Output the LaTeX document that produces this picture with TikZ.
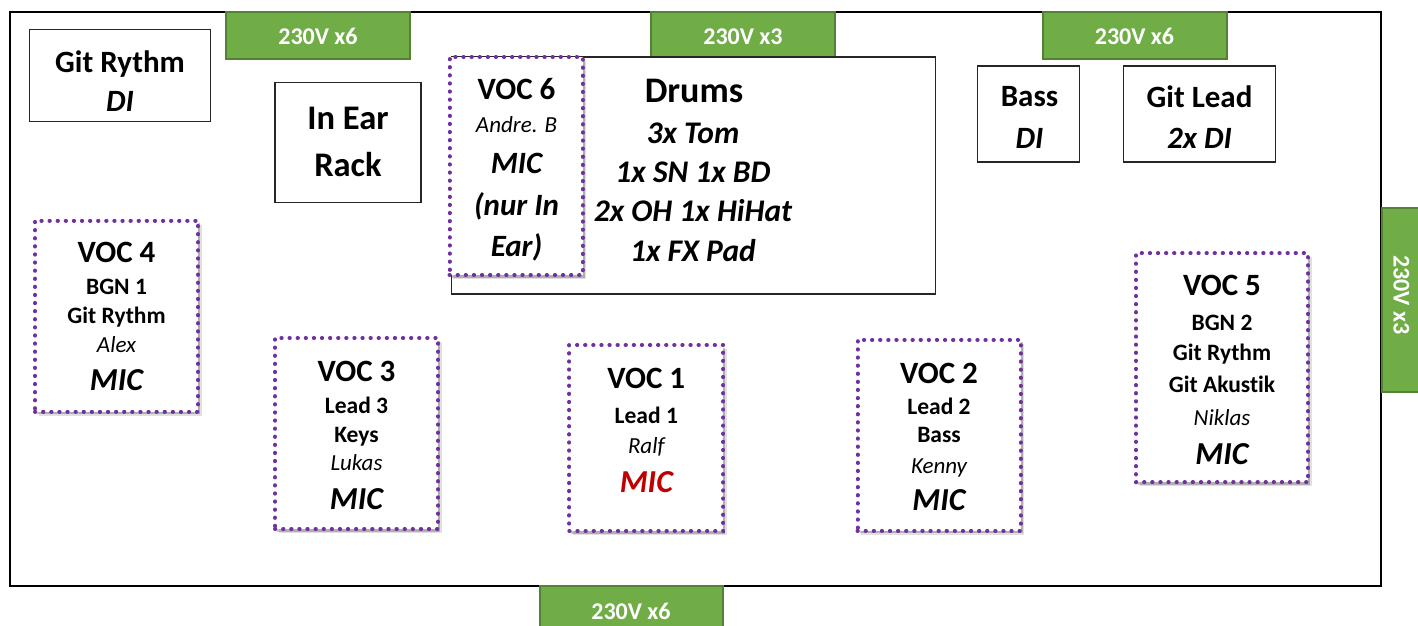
\documentclass[tikz,border=0pt]{standalone}
\usepackage{fontspec}
\setmainfont[Ligatures={NoCommon}]{Carlito}
\usetikzlibrary{shadows}
\definecolor{pgreen}{HTML}{70AD47}
\definecolor{pgreenb}{HTML}{548235}
\definecolor{vpurple}{HTML}{7030A0}
\definecolor{mred}{HTML}{C00000}
\tikzset{
  t/.style={anchor=base, inner sep=0pt},
  big/.style={t, font=\fontsize{31}{36}\selectfont\bfseries},
  bigit/.style={t, font=\fontsize{31}{36}\selectfont\bfseries\itshape},
  mid/.style={t, font=\fontsize{23.5}{28}\selectfont\bfseries},
  nm/.style={t, font=\fontsize{23}{28}\selectfont\itshape},
  mic/.style={t, font=\fontsize{32}{36}\selectfont\bfseries\itshape},
  drum/.style={t, font=\fontsize{31.5}{36}\selectfont\bfseries\itshape},
  ptext/.style={t, text=white, font=\fontsize{24}{28}\selectfont\bfseries},
  power/.style={draw=pgreenb, fill=pgreen, line width=2pt, inner sep=0pt},
  gearbox/.style={draw=black!85, fill=white, line width=1.3pt, inner sep=0pt},
  vocbox/.style={draw=vpurple, fill=white, line width=4pt, dash pattern=on 0.3pt off 7.8pt, line cap=round, inner sep=0pt,
    drop shadow={shadow xshift=3.5pt, shadow yshift=-4pt, opacity=0.12, fill=black},
    drop shadow={shadow xshift=2pt, shadow yshift=-2.5pt, opacity=0.22, fill=black}},
}
\begin{document}
\begin{tikzpicture}[x=1pt,y=-1pt]
\path[use as bounding box] (0,0) rectangle (1418,625);
\clip (0,0) rectangle (1418,625);
% stage
\node[draw=black, line width=2pt, minimum width=1371pt, minimum height=574pt, inner sep=0pt] (stage) at (695.5,298.5) {};
% power strips
\node[power, minimum width=184pt, minimum height=47pt] (p1) at (318,35) {};
\node[ptext] (p1t) at (318,44) {230V x6};
\node[power, minimum width=184pt, minimum height=47pt] (p2) at (743,35) {};
\node[ptext] (p2t) at (743,44) {230V x3};
\node[power, minimum width=184pt, minimum height=47pt] (p3) at (1134.5,35) {};
\node[ptext] (p3t) at (1134.5,44) {230V x6};
\node[power, minimum width=47pt, minimum height=184pt] (p4) at (1405,300) {};
\node[text=white, font=\fontsize{24}{28}\selectfont\bfseries, rotate=-90, inner sep=0pt] (p4t) at (1401.5,295) {230V x3};
\node[power, minimum width=183pt, minimum height=48pt] (p5) at (631,610) {};
\node[ptext] (p5t) at (631,619) {230V x6};
% Git Rythm DI
\node[gearbox, minimum width=181pt, minimum height=92pt] (gr) at (120,75.5) {};
\node[big] (grt1) at (120,72) {Git Rythm};
\node[bigit] (grt2) at (120,111.5) {DI};
% In Ear Rack
\node[gearbox, minimum width=146pt, minimum height=120pt] (ier) at (348,142.5) {};
\node[t, font=\fontsize{34.5}{40}\selectfont\bfseries] (iert1) at (348,129.3) {In Ear};
\node[t, font=\fontsize{34.5}{40}\selectfont\bfseries] (iert2) at (348,176.7) {Rack};
% Drums
\node[gearbox, minimum width=484pt, minimum height=237pt] (dr) at (693.5,175.5) {};
\node[t, font=\fontsize{36}{40}\selectfont\bfseries] (drt1) at (694,102.7) {Drums};
\node[drum] (drt2) at (693,143.3) {3x Tom};
\node[drum] (drt3) at (693,182.7) {1x SN 1x BD};
\node[drum] (drt4) at (693,221.7) {2x OH 1x HiHat};
\node[drum] (drt5) at (693,261.7) {1x FX Pad};
% Bass DI
\node[gearbox, minimum width=102pt, minimum height=96pt] (bs) at (1028.3,114) {};
\node[big] (bst1) at (1029.5,106.7) {Bass};
\node[bigit] (bst2) at (1029.5,148.3) {DI};
% Git Lead
\node[gearbox, minimum width=152pt, minimum height=96pt] (gl) at (1199.3,114) {};
\node[big] (glt1) at (1199.5,107.3) {Git Lead};
\node[bigit] (glt2) at (1199.5,148.3) {2x DI};
% VOC 6
\node[vocbox, minimum width=133pt, minimum height=218pt] (v6) at (516,166) {};
\node[big] (v6t1) at (516.5,99) {VOC 6};
\node[nm] (v6t2) at (516.5,132.7) {Andre. B};
\node[bigit] (v6t3) at (516.5,173.3) {MIC};
\node[bigit] (v6t4) at (516.5,215) {(nur In};
\node[bigit] (v6t5) at (516.5,256.7) {Ear)};
% VOC 4
\node[vocbox, minimum width=163pt, minimum height=191pt] (v4) at (116.5,316) {};
\node[big] (v4t1) at (116.5,262.7) {VOC 4};
\node[mid] (v4t2) at (116.5,294) {BGN 1};
\node[mid] (v4t3) at (116.5,323.3) {Git Rythm};
\node[nm] (v4t4) at (116.5,352.7) {Alex};
\node[mic] (v4t5) at (116.5,390) {MIC};
% VOC 3
\node[vocbox, minimum width=163pt, minimum height=191pt] (v3) at (356.5,433.5) {};
\node[big] (v3t1) at (356.5,381.7) {VOC 3};
\node[mid] (v3t2) at (356.5,413.3) {Lead 3};
\node[mid] (v3t3) at (356.5,442.3) {Keys};
\node[nm] (v3t4) at (356.5,470.7) {Lukas};
\node[mic] (v3t5) at (356.5,509) {MIC};
% VOC 1
\node[vocbox, minimum width=154pt, minimum height=186pt] (v1) at (646.3,438) {};
\node[big] (v1t1) at (646.3,388.3) {VOC 1};
\node[mid] (v1t2) at (646.3,423.3) {Lead 1};
\node[nm] (v1t3) at (646.3,453.3) {Ralf};
\node[mic, text=mred] (v1t4) at (646.3,492.7) {MIC};
% VOC 2
\node[vocbox, minimum width=163pt, minimum height=191pt] (v2) at (939,435.3) {};
\node[big] (v2t1) at (939,383.3) {VOC 2};
\node[mid] (v2t2) at (939,414) {Lead 2};
\node[mid] (v2t3) at (939,442.7) {Bass};
\node[nm] (v2t4) at (939,473.3) {Kenny};
\node[mic] (v2t5) at (939,510) {MIC};
% VOC 5
\node[vocbox, minimum width=172pt, minimum height=229pt] (v5) at (1222,367.8) {};
\node[big] (v5t1) at (1222,295) {VOC 5};
\node[mid] (v5t2) at (1222,330) {BGN 2};
\node[mid] (v5t3) at (1222,360.7) {Git Rythm};
\node[mid] (v5t4) at (1222,392.3) {Git Akustik};
\node[nm] (v5t5) at (1222,425) {Niklas};
\node[mic] (v5t6) at (1222,464) {MIC};
\end{tikzpicture}
\end{document}
